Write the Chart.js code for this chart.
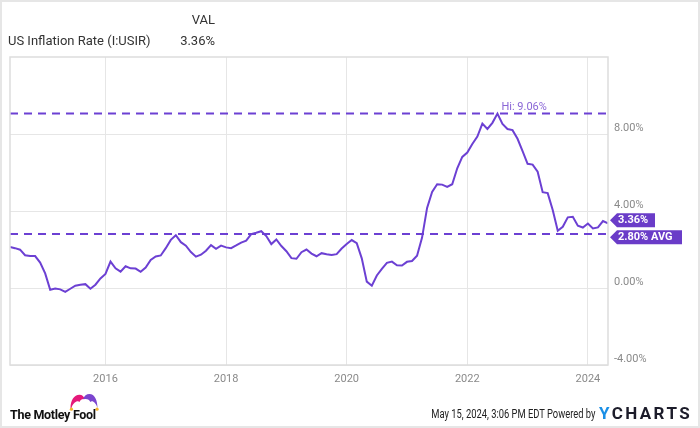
<!DOCTYPE html>
<html>
<head>
<meta charset="utf-8">
<script src="https://cdn.jsdelivr.net/npm/chart.js@4/dist/chart.umd.min.js"></script>
<style>
  html, body { margin: 0; padding: 0; background: #fff; }
  #wrap { position: relative; width: 700px; height: 428px; overflow: hidden; font-family: Roboto, sans-serif; }
  #c { position: absolute; left: 0; top: 0; }
  #frame { position: absolute; left: 0; top: 0; width: 700px; height: 428px; box-sizing: border-box; border: 2px solid #e6e6e6; pointer-events: none; }
  .hdr { position: absolute; font-size: 13px; color: #333; white-space: nowrap; }
  .foot { position: absolute; white-space: nowrap; }
</style>
</head>
<body>
<div id="wrap">
  <canvas id="c" width="700" height="428"></canvas>
  <div class="hdr" style="left:183px; top:12px; width:32px; text-align:right;">VAL</div>
  <div class="hdr" style="left:8px; top:33px;">US Inflation Rate (I:USIR)</div>
  <div class="hdr" style="left:160px; top:33px; width:55px; text-align:right;">3.36%</div>

  <!-- Motley Fool logo -->
  <svg class="foot" style="left:67px; top:393px;" width="34" height="18" viewBox="0 0 36 20">
    <path d="M3 17 C3 8 7 2 13 2 C16 2 18 4 19 7 C17 6 14 7 13 10 C11 8 6 10 4 17 Z" fill="#e5197a"/>
    <path d="M17 7 C18 3 21 1 24 1 C30 1 33 8 33 17 C31 10 27 8 25 10 C24 7 21 6 17 7 Z" fill="#7b45cf"/>
    <circle cx="4" cy="18" r="1.8" fill="#f4b52e"/>
    <circle cx="32.5" cy="18" r="1.8" fill="#f4b52e"/>
  </svg>
  <div class="foot" style="left:10px; top:407px; font: 700 12.5px Roboto, sans-serif; color:#111; letter-spacing:-0.3px;">The Motley Fool</div>

  <div class="foot" style="right:105px; top:407px; font: 12px Roboto, sans-serif; color:#222; transform: scaleX(0.78); transform-origin: right center;">May 15, 2024, 3:06 PM EDT Powered by</div>
  <div class="foot" style="left:599px; top:403px; font: 700 17px Roboto, sans-serif; letter-spacing:2.4px;"><span style="color:#1a8fe6;">Y</span><span style="color:#1c1c2a;">CHARTS</span></div>

  <div id="frame"></div>
</div>

<script>
// monthly CPI YoY, month-end points from May 2014 to Apr 2024
const firstYear = 2014;
const firstMonth = 5;
const inflation = [
  2.13, 2.07, 1.99, 1.70, 1.66, 1.66, 1.32, 0.76,
  -0.09, -0.03, -0.07, -0.20, -0.04, 0.12, 0.17, 0.20, -0.04, 0.17, 0.50, 0.73,
  1.37, 1.02, 0.85, 1.13, 1.02, 1.01, 0.84, 1.06, 1.46, 1.64, 1.69, 2.07,
  2.50, 2.74, 2.38, 2.20, 1.87, 1.63, 1.73, 1.94, 2.23, 2.04, 2.20, 2.11,
  2.07, 2.21, 2.36, 2.46, 2.80, 2.87, 2.95, 2.70, 2.28, 2.52, 2.18, 1.91,
  1.55, 1.52, 1.86, 2.00, 1.79, 1.65, 1.81, 1.75, 1.71, 1.76, 2.05, 2.29,
  2.49, 2.33, 1.54, 0.33, 0.12, 0.65, 0.99, 1.31, 1.37, 1.18, 1.17, 1.36,
  1.40, 1.68, 2.62, 4.16, 4.99, 5.39, 5.37, 5.25, 5.39, 6.22, 6.81, 7.04,
  7.48, 7.87, 8.54, 8.26, 8.58, 9.06, 8.52, 8.26, 8.20, 7.75, 7.11, 6.45,
  6.41, 6.04, 4.98, 4.93, 4.05, 2.97, 3.18, 3.67, 3.70, 3.24, 3.14, 3.35,
  3.09, 3.15, 3.48, 3.36
];
const yearTicks = [2016, 2018, 2020, 2022, 2024];
const pctTicks = [-4, 0, 4, 8];
const hiValue = 9.06;
const avgValue = 2.80;
const lastValue = 3.36;

const PURPLE = '#6c40d3';
const TAG = '#6a3cc8';

// decimal year at month end
const points = inflation.map((v, i) => ({ x: firstYear + (firstMonth + i) / 12, y: v }));
const xMin = points[0].x;
const xMax = points[points.length - 1].x;
const hiPoint = points.reduce((a, b) => (b.y > a.y ? b : a));

const overlay = {
  id: 'overlay',
  afterDraw(chart) {
    const { ctx, chartArea: a, scales: { x, y } } = chart;
    ctx.save();
    // plot frame
    ctx.strokeStyle = '#dddddd';
    ctx.lineWidth = 1.5;
    ctx.strokeRect(a.left, a.top, a.right - a.left, a.bottom - a.top);

    // Hi label
    ctx.font = '11px Roboto, sans-serif';
    ctx.fillStyle = '#8a66d6';
    ctx.textAlign = 'left';
    ctx.textBaseline = 'alphabetic';
    ctx.fillText('Hi: ' + hiValue.toFixed(2) + '%', x.getPixelForValue(hiPoint.x) + 4, y.getPixelForValue(hiValue) - 4);

    // right side tags
    let y1 = y.getPixelForValue(lastValue);
    let y2 = y.getPixelForValue(avgValue);
    if (y2 - y1 < 17) {
      const mid = (y1 + y2) / 2;
      y1 = mid - 8.5; y2 = mid + 8.5;
    }
    const tag = (yc, text, w) => {
      const xl = a.right + 2, h = 14, ar = 7;
      ctx.beginPath();
      ctx.moveTo(xl, yc);
      ctx.lineTo(xl + ar, yc - h / 2);
      ctx.lineTo(xl + w, yc - h / 2);
      ctx.lineTo(xl + w, yc + h / 2);
      ctx.lineTo(xl + ar, yc + h / 2);
      ctx.closePath();
      ctx.fillStyle = TAG;
      ctx.fill();
      ctx.fillStyle = '#fff';
      ctx.font = '700 11px Roboto, sans-serif';
      ctx.textBaseline = 'middle';
      ctx.fillText(text, xl + ar + 1, yc + 0.5);
    };
    tag(y1, lastValue.toFixed(2) + '%', 45);
    tag(y2, avgValue.toFixed(2) + '% AVG', 72);
    ctx.restore();
  }
};

new Chart(document.getElementById('c'), {
  type: 'line',
  data: {
    datasets: [
      {
        data: points,
        borderColor: PURPLE,
        borderWidth: 2,
        pointRadius: 0,
        tension: 0,
        order: 1
      },
      {
        data: [{ x: xMin, y: hiValue }, { x: xMax, y: hiValue }],
        borderColor: PURPLE,
        borderWidth: 2,
        borderDash: [8, 6],
        pointRadius: 0,
        order: 2
      },
      {
        data: [{ x: xMin, y: avgValue }, { x: xMax, y: avgValue }],
        borderColor: PURPLE,
        borderWidth: 2,
        borderDash: [8, 6],
        pointRadius: 0,
        order: 2
      }
    ]
  },
  options: {
    responsive: false,
    animation: false,
    devicePixelRatio: 1,
    layout: { padding: { left: 10, top: 57, right: 0, bottom: 0 } },
    plugins: { legend: { display: false }, tooltip: { enabled: false } },
    scales: {
      x: {
        type: 'linear',
        min: xMin,
        max: xMax,
        afterBuildTicks: (s) => { s.ticks = yearTicks.map(v => ({ value: v })); },
        afterFit: (s) => { s.height = 63; },
        grid: { color: '#e6e6e6', lineWidth: 1, drawTicks: false },
        border: { display: false },
        ticks: {
          padding: 8,
          color: '#8a8a8a',
          font: { family: 'Roboto', size: 11 },
          callback: (v) => String(v),
          maxRotation: 0
        }
      },
      y: {
        position: 'right',
        min: -4,
        max: 12,
        afterBuildTicks: (s) => { s.ticks = pctTicks.map(v => ({ value: v })); },
        afterFit: (s) => { s.width = 92; },
        grid: { color: '#e6e6e6', lineWidth: 1, drawTicks: false },
        border: { display: false },
        ticks: {
          padding: 6,
          labelOffset: -6,
          color: '#8a8a8a',
          font: { family: 'Roboto', size: 11 },
          callback: (v) => v.toFixed(2) + '%'
        }
      }
    }
  },
  plugins: [overlay]
});
</script>
</body>
</html>
